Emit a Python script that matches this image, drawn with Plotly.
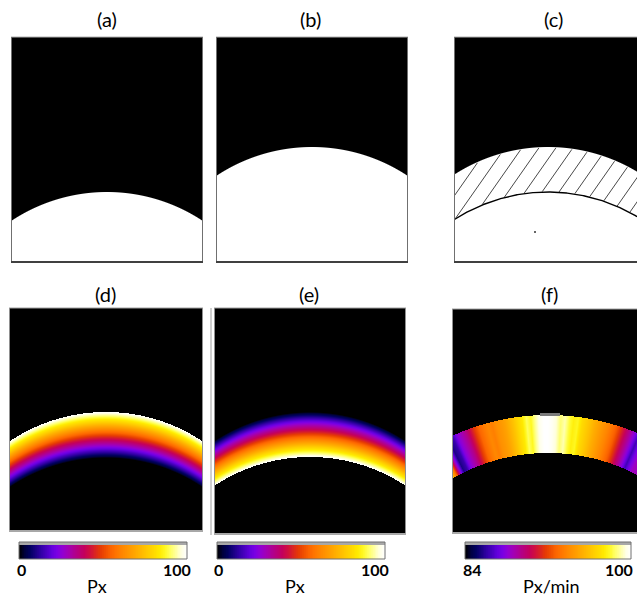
import numpy as np
import plotly.graph_objects as go

W, H = 637, 598

# ---------------- data ----------------
PANEL_TITLES = ["(a)", "(b)", "(c)", "(d)", "(e)", "(f)"]
ARC_RADIUS = 173                      # px, curvature of the boundaries in (a)-(e)
A_TOP = 192                           # row of the top of the white cap in (a)
B_TOP = 147                           # row of the top of the white cap in (b)
C_OUTER_TOP, C_INNER_TOP = 147, 192   # (c): outer / inner boundary tops
D_OUTER_TOP, D_INNER_TOP = 412, 458   # (d) band
E_OUTER_TOP, E_INNER_TOP = 412, 457   # (e) band
F_CENTER_X, F_CENTER_Y = 548, 645     # (f) annulus centre
F_R_OUT, F_R_IN, F_R_MID = 230, 192, 211
# (f) Px/min profile along the band (x position at mid radius -> value)
F_PROFILE_X = [444, 448, 452, 456, 460, 464, 468, 472, 476, 480, 484, 488, 492, 496, 500,
               504, 508, 512, 516, 520, 524, 528, 532, 536, 540, 544, 548, 552, 556, 560,
               564, 568, 572, 576, 580, 584, 588, 592, 596, 600, 604, 608, 612, 616, 620,
               624, 628, 632, 636, 640]
F_PROFILE_V = [96, 93, 88.5, 85.6, 86.2, 87.8, 88.6, 89.4, 90.6, 91.8, 92.8, 93.4, 93.9, 93.6, 94.2,
               94.5, 94.9, 95.5, 96.1, 96.8, 97.4, 98.4, 97.9, 98.9, 99.7, 100, 100, 99.8, 99.4, 98.6,
               99.1, 98.2, 97.6, 97.9, 96.9, 96.4, 95.9, 95.3, 94.8, 94.3, 93.8, 93.2, 92.5, 91.4, 90.2,
               89.1, 87.9, 86.4, 87.6, 88.5]
CB_MIN_LABELS = ["0", "0", "84"]
CB_MAX_LABELS = ["100", "100", "100"]
CB_UNITS = ["Px", "Px", "Px/min"]
CB_RANGES = [(0, 100), (0, 100), (84, 100)]

# ---------------- layout geometry (pixels) ----------------
PANELS = {  # x0, y0, x1, y1
    "a": (11, 37, 203, 263), "b": (216, 37, 408, 263), "c": (454, 37, 637, 263),
    "d": (9, 308, 203, 532), "e": (214, 308, 406, 535), "f": (452, 309, 637, 534),
}
CENTERS_X = {"a": 107, "b": 312, "c": 548, "d": 106, "e": 310, "f": 548}
TITLE_POS = [(107, 19), (310, 19), (553, 19), (105, 294), (309, 294), (549, 294)]
CB_RECTS = [(19, 542, 187, 559), (217, 542, 385, 559), (465, 542, 631, 559)]
HATCH_ANGLE_DEG, HATCH_STEP = 55, 17

# ImageJ "Fire" LUT
FIRE_R = [0, 0, 1, 25, 49, 73, 98, 122, 146, 162, 173, 184, 195, 207, 217, 229, 240, 252,
          255, 255, 255, 255, 255, 255, 255, 255, 255, 255, 255, 255, 255, 255]
FIRE_G = [0, 0, 0, 0, 0, 0, 0, 0, 0, 0, 0, 0, 0, 14, 35, 57, 79, 101, 117, 133, 147, 161,
          175, 190, 205, 219, 234, 248, 255, 255, 255, 255]
FIRE_B = [0, 61, 96, 130, 165, 192, 220, 227, 210, 181, 151, 122, 93, 64, 35, 5, 0, 0, 0,
          0, 0, 0, 0, 0, 0, 0, 0, 35, 98, 160, 223, 255]
FIRE = [[i / 31, f"rgb({r},{g},{b})"] for i, (r, g, b) in enumerate(zip(FIRE_R, FIRE_G, FIRE_B))]
BW = [[0, "black"], [1, "white"]]
FONT = "Lato"

layout = dict(width=W, height=H, margin=dict(l=0, r=0, t=0, b=0),
              paper_bgcolor="white", plot_bgcolor="black", showlegend=False)
traces = []
shapes = []
annotations = []
axis_count = [0]


def new_axes(rect, xr, yr):
    axis_count[0] += 1
    i = axis_count[0]
    x0, y0, x1, y1 = rect
    sx = "" if i == 1 else str(i)
    layout["xaxis" + sx] = dict(domain=[x0 / W, x1 / W], range=xr, visible=False,
                                fixedrange=True, anchor="y" + sx)
    layout["yaxis" + sx] = dict(domain=[1 - y1 / H, 1 - y0 / H], range=yr, visible=False,
                                fixedrange=True, anchor="x" + sx)
    return "x" + sx, "y" + sx


def grid(key):
    x0, y0, x1, y1 = PANELS[key]
    w, h = x1 - x0, y1 - y0
    xs = np.arange(w) + 0.5
    ys = np.arange(h) + 0.5
    X, Y = np.meshgrid(xs, ys)
    return w, h, xs, ys, X, Y


def panel_axes(key):
    x0, y0, x1, y1 = PANELS[key]
    return new_axes(PANELS[key], [0, x1 - x0], [y1 - y0, 0])


def cap(X, Y, cx, top):
    cy = top + ARC_RADIUS
    d = np.sqrt((X - cx) ** 2 + (Y - cy) ** 2)
    return np.clip(ARC_RADIUS - d + 0.5, 0, 1), d


# ---- (a), (b): white caps ----
for key, top in (("a", A_TOP), ("b", B_TOP)):
    w, h, xs, ys, X, Y = grid(key)
    xa, ya = panel_axes(key)
    z, _ = cap(X, Y, CENTERS_X[key] - PANELS[key][0], top - PANELS[key][1])
    traces.append(go.Heatmap(z=z, x=xs, y=ys, xaxis=xa, yaxis=ya, colorscale=BW,
                             zmin=0, zmax=1, showscale=False, hoverinfo="skip"))

# ---- (c): white region with hatched band ----
w, h, xs, ys, X, Y = grid("c")
xa, ya = panel_axes("c")
cxl = CENTERS_X["c"] - PANELS["c"][0]
to = C_OUTER_TOP - PANELS["c"][1]
ti = C_INNER_TOP - PANELS["c"][1]
z, _ = cap(X, Y, cxl, to)
traces.append(go.Heatmap(z=z, x=xs, y=ys, xaxis=xa, yaxis=ya, colorscale=BW,
                         zmin=0, zmax=1, showscale=False, hoverinfo="skip"))
ang = np.deg2rad(HATCH_ANGLE_DEG)
hx, hy = [], []
yy = np.arange(0, h, 0.2)
for x0 in np.arange(88 - HATCH_STEP * 12, 320, HATCH_STEP):
    xx = x0 + (ti - yy) / np.tan(ang)
    do = np.sqrt((xx - cxl) ** 2 + (yy - (to + ARC_RADIUS)) ** 2)
    di = np.sqrt((xx - cxl) ** 2 + (yy - (ti + ARC_RADIUS)) ** 2)
    m = (do <= ARC_RADIUS - 0.6) & (di >= ARC_RADIUS + 0.3)
    for k in range(len(yy)):
        if m[k]:
            hx.append(float(xx[k])); hy.append(float(yy[k]))
        elif hx and hx[-1] is not None:
            hx.append(None); hy.append(None)
    hx.append(None); hy.append(None)
traces.append(go.Scatter(x=hx, y=hy, xaxis=xa, yaxis=ya, mode="lines",
                         line=dict(color="#333333", width=0.9), hoverinfo="skip"))
ax = np.linspace(0, w, 300)
ay = ti + ARC_RADIUS - np.sqrt(ARC_RADIUS ** 2 - (ax - cxl) ** 2)
traces.append(go.Scatter(x=ax, y=ay, xaxis=xa, yaxis=ya, mode="lines",
                         line=dict(color="black", width=1.4), hoverinfo="skip"))
traces.append(go.Scatter(x=[81], y=[195], xaxis=xa, yaxis=ya, mode="markers",
                         marker=dict(color="#333", size=2), hoverinfo="skip"))

# ---- (d), (e): gradient bands ----
for key, otop, itop, rev in (("d", D_OUTER_TOP, D_INNER_TOP, False),
                             ("e", E_OUTER_TOP, E_INNER_TOP, True)):
    w, h, xs, ys, X, Y = grid(key)
    xa, ya = panel_axes(key)
    cxl = CENTERS_X[key] - PANELS[key][0]
    o = otop - PANELS[key][1]
    thick = itop - otop
    yo = o + ARC_RADIUS - np.sqrt(ARC_RADIUS ** 2 - (X - cxl) ** 2)
    f = (Y - yo) / thick
    v = np.where((f >= 0) & (f <= 1), 100 * (f if rev else 1 - f), 0)
    traces.append(go.Heatmap(z=v, x=xs, y=ys, xaxis=xa, yaxis=ya, colorscale=FIRE,
                             zmin=0, zmax=100, showscale=False, hoverinfo="skip"))

# ---- (f): Px/min annulus ----
w, h, xs, ys, X, Y = grid("f")
xa, ya = panel_axes("f")
cxl = F_CENTER_X - PANELS["f"][0]
cyl = F_CENTER_Y - PANELS["f"][1]
r = np.sqrt((X - cxl) ** 2 + (Y - cyl) ** 2)
theta = np.arctan2(X - cxl, cyl - Y)
prof_t = np.arcsin((np.array(F_PROFILE_X) - F_CENTER_X) / F_R_MID)
v = np.interp(theta, prof_t, np.array(F_PROFILE_V, dtype=float))
v = np.where((r <= F_R_OUT) & (r >= F_R_IN), v, 84)
traces.append(go.Heatmap(z=v, x=xs, y=ys, xaxis=xa, yaxis=ya, colorscale=FIRE,
                         zmin=84, zmax=100, showscale=False, hoverinfo="skip"))


def px(x):
    return x / W


def py(y):
    return 1 - y / H


def rect(x0, y0, x1, y1, fill=None, line=None, lw=1):
    shapes.append(dict(type="rect", xref="paper", yref="paper", x0=px(x0), x1=px(x1),
                       y0=py(y1), y1=py(y0), fillcolor=fill or "rgba(0,0,0,0)",
                       line=dict(color=line or "rgba(0,0,0,0)", width=lw if line else 0),
                       layer="above"))


def hline(x0, x1, y, color, lw):
    shapes.append(dict(type="line", xref="paper", yref="paper", x0=px(x0), x1=px(x1),
                       y0=py(y), y1=py(y), line=dict(color=color, width=lw), layer="above"))


def vline(x, y0, y1, color, lw):
    shapes.append(dict(type="line", xref="paper", yref="paper", x0=px(x), x1=px(x),
                       y0=py(y0), y1=py(y1), line=dict(color=color, width=lw), layer="above"))


# panel borders
for key in ("a", "b", "c"):
    x0, y0, x1, y1 = PANELS[key]
    hline(x0, x1, y0, "#b0b0b0", 1)
    vline(x0 + 0.5, y0, y1, "#707070", 1)
    if key != "c":
        vline(x1 - 0.5, y0, y1, "#707070", 1)
    hline(x0, x1, y1 - 1, "#404040", 2)
for key in ("d", "e", "f"):
    x0, y0, x1, y1 = PANELS[key]
    hline(x0, x1, y0, "#a0a0a0", 1)
    vline(x0 + 0.5, y0, y1, "#909090", 1)
    if key != "f":
        vline(x1 - 0.5, y0, y1, "#909090", 1)
    hline(x0, x1, y1 - 1, "#a8a8a8", 2)
vline(211, 308, 535, "#a0a0a0", 1)
rect(540, 413, 560, 416, fill="#7a7a7a")

# colour bars
for k, (cx0, cy0, cx1, cy1) in enumerate(CB_RECTS):
    zmin, zmax = CB_RANGES[k]
    xa, ya = new_axes((cx0, cy0 + 3, cx1, cy1), [-0.5, 255.5], [-0.5, 0.5])
    traces.append(go.Heatmap(z=[np.linspace(zmin, zmax, 256)], x=np.arange(256), y=[0],
                             xaxis=xa, yaxis=ya, colorscale=FIRE, zmin=zmin, zmax=zmax,
                             showscale=False, hoverinfo="skip"))
    rect(cx0, cy0, cx1, cy0 + 3, fill="#a8a8a8")
    rect(cx0, cy0, cx1, cy1, line="#707070", lw=1)
    annotations.append(dict(text=f"<b>{CB_MIN_LABELS[k]}</b>", x=px(cx0 + (2 if k < 2 else 7)),
                            y=py(569), xref="paper", yref="paper", showarrow=False,
                            xanchor="center", yanchor="middle",
                            font=dict(family=FONT, size=16, color="black")))
    annotations.append(dict(text=f"<b>{CB_MAX_LABELS[k]}</b>", x=px(cx0 + (158 if k < 2 else 154)),
                            y=py(569), xref="paper", yref="paper", showarrow=False,
                            xanchor="center", yanchor="middle",
                            font=dict(family=FONT, size=16, color="black")))
    annotations.append(dict(text=CB_UNITS[k], x=px(cx0 + (78 if k < 2 else 86)), y=py(586),
                            xref="paper", yref="paper", showarrow=False,
                            xanchor="center", yanchor="middle",
                            font=dict(family=FONT, size=18, color="black")))

for t, (tx, ty) in zip(PANEL_TITLES, TITLE_POS):
    annotations.append(dict(text=t, x=px(tx), y=py(ty), xref="paper", yref="paper",
                            showarrow=False, xanchor="center", yanchor="middle",
                            font=dict(family=FONT, size=20, color="black")))

layout["shapes"] = shapes
layout["annotations"] = annotations
fig = go.Figure(data=traces, layout=layout)
fig.write_html("out.html", config={"displayModeBar": False, "staticPlot": True},
               post_script="document.body.style.margin='0px';"
                           "document.body.style.overflow='hidden';")
